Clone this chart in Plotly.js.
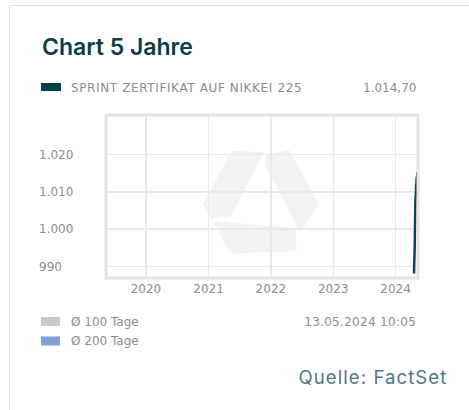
<!DOCTYPE html>
<html>
<head>
<meta charset="utf-8">
<script src="https://cdn.plot.ly/plotly-3.0.1.min.js"></script>
<style>
  html, body { margin:0; padding:0; background:#fff; }
  #wrap { position:relative; width:469px; height:410px; overflow:hidden; }
  #card { position:absolute; left:9px; top:5px; width:520px; height:520px;
          border-left:1px solid #d8e0e4; border-top:1px solid #d8e0e4; }
  #chart { position:absolute; left:0; top:0; width:469px; height:410px; }
  .annotation[data-index="1"] .annotation-text { letter-spacing:0.62px; }
  .annotation[data-index="5"] .annotation-text { letter-spacing:0.3px; }
  .annotation[data-index="6"] .annotation-text { letter-spacing:1.1px; }
</style>
</head>
<body>
<div id="wrap"><div id="card"></div><div id="chart"></div></div>
<script>
// ---- data ----
const seriesName = 'SPRINT ZERTIFIKAT AUF NIKKEI 225';
const lastValueLabel = '1.014,70';
const timestampLabel = '13.05.2024 10:05';
const chartTitle = 'Chart 5 Jahre';
const sourceLabel = 'Quelle: FactSet';
const avgLabels = ['Ø 100 Tage', 'Ø 200 Tage'];
const dates = ['2024-04-18','2024-04-19','2024-04-22','2024-04-23','2024-04-24','2024-04-25',
               '2024-04-26','2024-04-29','2024-04-30','2024-05-02','2024-05-03','2024-05-06',
               '2024-05-07','2024-05-08','2024-05-10'];
const prices = [988.2, 991.0, 995.5, 999.0, 1002.4, 1005.3, 1007.6, 1009.8, 1011.2,
                1012.5, 1013.4, 1014.3, 1014.8, 1015.1, 1014.7];
const xRange = ['2019-05-12', '2024-05-11'];
const yRange = [986.98, 1030.49];
const yTickVals = [990, 1000, 1010, 1020];

// ---- geometry helpers ----
const WID = 469, HEI = 410, L = 35, R = 51, T = 115, B = 132;
const PW = WID - L - R, PH = HEI - T - B;
const fx = px => (px - L) / PW;
const fy = py => (HEI - B - py) / PH;
function pathFrom(pts) {
  return 'M' + pts.map(p => fx(p[0]).toFixed(4) + ',' + fy(p[1]).toFixed(4)).join(' L') + ' Z';
}
function rectShape(x0, y0, x1, y1, color) {
  return {type:'rect', xref:'paper', yref:'paper', x0:fx(x0), x1:fx(x1), y0:fy(y1), y1:fy(y0),
          fillcolor:color, line:{width:0}, layer:'above'};
}

const wmColor = '#f3f3f3';
const watermark = [
  [[231.5,151],[264,152],[231,216],[212,219],[203,204]],
  [[266,155],[289,150],[319,204],[300,233],[266,166]],
  [[213,221],[295,228],[297,251],[230,253.5]]
].map(pts => ({type:'path', xref:'paper', yref:'paper', path:pathFrom(pts),
               fillcolor:wmColor, line:{width:0}, layer:'below'}));

const trace = {
  type:'scatter', mode:'lines', x:dates, y:prices, name:seriesName,
  line:{color:'#0b434c', width:2.5, shape:'spline'}, hoverinfo:'skip', showlegend:false
};

const textFont = {family:'DejaVu Sans', size:12, color:'#8c8c8c'};

function ann(text, px, py, xanchor, font) {
  return {text:text, xref:'paper', yref:'paper', x:fx(px), y:fy(py), xanchor:xanchor,
          yanchor:'middle', align:xanchor, showarrow:false, font:font};
}

const layout = {
  width:WID, height:HEI,
  margin:{l:L, r:R, t:T, b:B, pad:0},
  paper_bgcolor:'rgba(0,0,0,0)', plot_bgcolor:'#ffffff',
  separators:',.',
  showlegend:false,
  font:textFont,
  xaxis:{
    type:'date', domain:[fx(106), 1], range:xRange,
    tick0:'2020-01-01', dtick:'M12', tickformat:'%Y',
    showgrid:true, gridcolor:'#e9e9e9', gridwidth:1.5, ticklabelstandoff:2,
    zeroline:false, showline:false, ticks:'', tickfont:textFont, fixedrange:true
  },
  yaxis:{
    anchor:'free', position:0, range:yRange,
    tickmode:'array', tickvals:yTickVals, tickformat:',d',
    ticklabelposition:'inside', ticks:'',
    showgrid:true, gridcolor:'#e9e9e9', gridwidth:1.5,
    zeroline:false, showline:false, tickfont:textFont, fixedrange:true
  },
  shapes:[
    ...watermark,
    {type:'rect', xref:'x domain', yref:'y domain', x0:0, x1:1, y0:0, y1:1,
     line:{color:'#e3e3e3', width:3}, fillcolor:'rgba(0,0,0,0)', layer:'above'},
    rectShape(41, 83, 61, 91, '#0b3f48'),
    rectShape(41, 317, 60, 326, '#c9c9c9'),
    rectShape(41, 336.5, 60, 345.5, '#7e9fd8')
  ],
  annotations:[
    ann(chartTitle, 40, 47, 'left', {family:'Inter', size:23, weight:600, color:'#0d3b47'}),
    ann(seriesName, 69, 87.5, 'left', textFont),
    ann(lastValueLabel, 418, 87.5, 'right', textFont),
    ann(avgLabels[0], 69, 322, 'left', textFont),
    ann(avgLabels[1], 69, 341, 'left', textFont),
    ann(timestampLabel, 418, 322, 'right', textFont),
    ann(sourceLabel, 449, 377, 'right', {family:'Inter', size:18.5, color:'#4d7682'})
  ]
};

Plotly.newPlot('chart', [trace], layout, {staticPlot:true, displayModeBar:false});
</script>
</body>
</html>
